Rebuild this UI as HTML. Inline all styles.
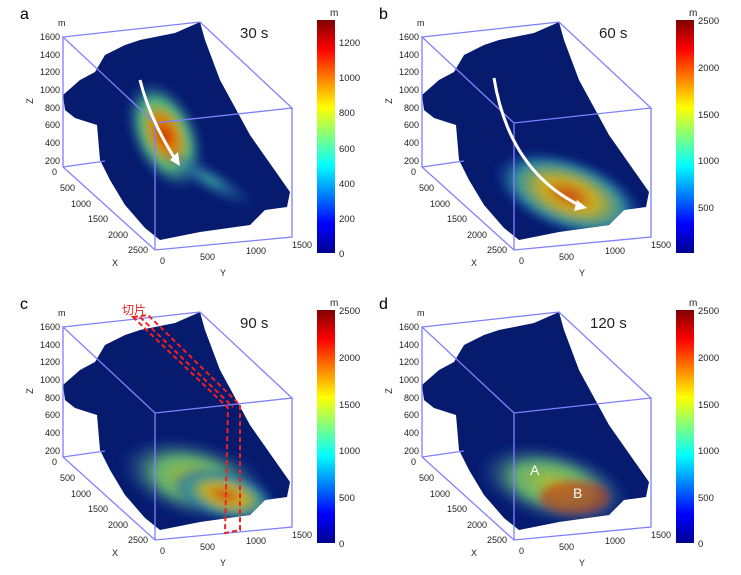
<!DOCTYPE html>
<html><head><meta charset="utf-8"><style>
html,body{margin:0;padding:0;background:#fff;}
svg{display:block;font-family:"Liberation Sans","Noto Sans CJK SC",sans-serif;}
.t{font-size:9px;fill:#222}
.c{font-size:9.5px;fill:#222}
</style></head><body>
<svg width="741" height="575" viewBox="0 0 741 575" xmlns="http://www.w3.org/2000/svg">
<defs>
<linearGradient id="jet" x1="0" y1="1" x2="0" y2="0">
<stop offset="0" stop-color="#00008f"/><stop offset="0.125" stop-color="#0000ff"/>
<stop offset="0.375" stop-color="#00ffff"/><stop offset="0.625" stop-color="#ffff00"/>
<stop offset="0.875" stop-color="#ff0000"/><stop offset="1" stop-color="#800000"/>
</linearGradient>
<radialGradient id="hot"><stop offset="0" stop-color="#c82000"/><stop offset="0.3" stop-color="#e08a00"/><stop offset="0.6" stop-color="#50c080"/><stop offset="1" stop-color="#1030a0" stop-opacity="0"/></radialGradient>
<radialGradient id="warm"><stop offset="0" stop-color="#d04010"/><stop offset="0.35" stop-color="#c8b020"/><stop offset="0.7" stop-color="#3090a0"/><stop offset="1" stop-color="#1030a0" stop-opacity="0"/></radialGradient>
<radialGradient id="green"><stop offset="0" stop-color="#b8c030"/><stop offset="0.5" stop-color="#60b070"/><stop offset="1" stop-color="#1030a0" stop-opacity="0"/></radialGradient>
<radialGradient id="cool"><stop offset="0" stop-color="#40b0a0"/><stop offset="1" stop-color="#1030a0" stop-opacity="0"/></radialGradient>
<clipPath id="terr"><path d="M63,95 L80,80 L95,72 L105,55 L125,45 L140,40 L175,33 L200,22 L205,40 L220,80 L250,135 L290,192 L287,207 L265,210 L250,225 L200,232 L160,240 L145,228 L125,205 L110,180 L100,160 L97,125 L75,118 L65,110 Z"/></clipPath>
<g id="box" fill="none" stroke="#8080ff" stroke-width="1.3">
<path d="M63,37 L200,22 L292,108 L155,123 Z M63,37 L63,167 L155,250 L292,237 L292,108 M155,123 L155,250 M63,167 L105,161"/>
</g>
<path id="ter" d="M63,95 L80,80 L95,72 L105,55 L125,45 L140,40 L175,33 L200,22 L205,40 L220,80 L250,135 L290,192 L287,207 L265,210 L250,225 L200,232 L160,240 L145,228 L125,205 L110,180 L100,160 L97,125 L75,118 L65,110 Z" fill="#061a6e"/>
<filter id="bl"><feGaussianBlur stdDeviation="4"/></filter>
</defs>

<!-- Panel a -->
<g>
<use href="#ter"/>
<g clip-path="url(#terr)" filter="url(#bl)">
<ellipse cx="165" cy="135" rx="35" ry="60" transform="rotate(-25 165 135)" fill="url(#hot)"/>
<ellipse cx="210" cy="180" rx="55" ry="14" transform="rotate(30 210 180)" fill="url(#cool)"/>
</g>
<use href="#box"/>
<path d="M140,80 Q150,120 177,162" stroke="#fff" stroke-width="3" fill="none"/>
<path d="M170,160 L180,166 L178,152 Z" fill="#fff"/>
</g>
<!-- Panel b -->
<g transform="translate(359,0)">
<use href="#ter"/>
<g clip-path="url(#terr)" filter="url(#bl)">
<ellipse cx="210" cy="195" rx="80" ry="38" transform="rotate(20 210 195)" fill="url(#warm)"/>
</g>
<use href="#box"/>
<path d="M135,78 Q150,170 220,205" stroke="#fff" stroke-width="3" fill="none"/>
<path d="M218,200 L228,208 L215,211 Z" fill="#fff"/>
</g>
<!-- Panel c -->
<g transform="translate(0,290)">
<use href="#ter"/>
<g clip-path="url(#terr)" filter="url(#bl)">
<ellipse cx="195" cy="190" rx="80" ry="40" transform="rotate(15 195 190)" fill="url(#green)"/>
<ellipse cx="225" cy="205" rx="55" ry="25" transform="rotate(15 225 205)" fill="url(#warm)"/>
</g>
<use href="#box"/>
<path d="M133,27 L148,25 L240,115 L240,240 L225,243 L228,118 Z M140,27 L233,117" stroke="#ee2020" stroke-width="2" stroke-dasharray="5,3" fill="none"/>
<text x="122" y="24" font-size="12" fill="#ee2020">切片</text>
</g>
<!-- Panel d -->
<g transform="translate(359,290)">
<use href="#ter"/>
<g clip-path="url(#terr)" filter="url(#bl)">
<ellipse cx="195" cy="195" rx="80" ry="38" transform="rotate(15 195 195)" fill="url(#green)"/>
<ellipse cx="215" cy="207" rx="35" ry="17" fill="#c83010" opacity="0.6"/>
</g>
<use href="#box"/>
<text x="171" y="185" font-size="14" fill="#fff">A</text>
<text x="214" y="208" font-size="14" fill="#fff">B</text>
</g>

<!-- colorbars -->
<rect x="317" y="20" width="18" height="233" fill="url(#jet)"/>
<rect x="676" y="20" width="18" height="233" fill="url(#jet)"/>
<rect x="317" y="310" width="18" height="233" fill="url(#jet)"/>
<rect x="676" y="310" width="18" height="233" fill="url(#jet)"/>

<g class="c">
<text x="20" y="19" font-size="16" fill="#000">a</text>
<text x="379" y="19" font-size="16" fill="#000">b</text>
<text x="20" y="309" font-size="16" fill="#000">c</text>
<text x="379" y="309" font-size="16" fill="#000">d</text>
<text x="240" y="38" font-size="15">30 s</text>
<text x="599" y="38" font-size="15">60 s</text>
<text x="240" y="328" font-size="15">90 s</text>
<text x="590" y="328" font-size="15">120 s</text>
<text x="330" y="16" font-size="10">m</text>
<text x="339" y="46">1200</text><text x="339" y="81">1000</text><text x="339" y="116">800</text><text x="339" y="152">600</text><text x="339" y="187">400</text><text x="339" y="222">200</text><text x="339" y="257">0</text>
<text x="689" y="16" font-size="10">m</text>
<text x="698" y="24">2500</text><text x="698" y="71">2000</text><text x="698" y="118">1500</text><text x="698" y="164">1000</text><text x="698" y="211">500</text>
<text x="330" y="306" font-size="10">m</text>
<text x="339" y="314">2500</text><text x="339" y="361">2000</text><text x="339" y="408">1500</text><text x="339" y="454">1000</text><text x="339" y="501">500</text><text x="339" y="547">0</text>
<text x="689" y="306" font-size="10">m</text>
<text x="698" y="314">2500</text><text x="698" y="361">2000</text><text x="698" y="408">1500</text><text x="698" y="454">1000</text><text x="698" y="501">500</text><text x="698" y="547">0</text>
</g>

<g class="t" text-anchor="end">
<text x="58" y="26" text-anchor="start">m</text>
<text x="60" y="40">1600</text><text x="60" y="58">1400</text><text x="60" y="75">1200</text><text x="60" y="93">1000</text><text x="60" y="111">800</text><text x="60" y="128">600</text><text x="60" y="146">400</text><text x="60" y="164">200</text><text x="57" y="175">0</text>
<text x="75" y="191">500</text><text x="91" y="207">1000</text><text x="108" y="222">1500</text><text x="128" y="238">2000</text><text x="148" y="253">2500</text>
<text x="118" y="266">X</text>
<text x="165" y="264">0</text><text x="215" y="260">500</text><text x="266" y="254">1000</text><text x="312" y="248">1500</text>
<text x="226" y="276">Y</text>
<text x="0" y="0" transform="translate(33,101) rotate(-90)" text-anchor="middle">Z</text>
</g>
<g class="t" text-anchor="end" transform="translate(359,0)">
<text x="58" y="26" text-anchor="start">m</text>
<text x="60" y="40">1600</text><text x="60" y="58">1400</text><text x="60" y="75">1200</text><text x="60" y="93">1000</text><text x="60" y="111">800</text><text x="60" y="128">600</text><text x="60" y="146">400</text><text x="60" y="164">200</text><text x="57" y="175">0</text>
<text x="75" y="191">500</text><text x="91" y="207">1000</text><text x="108" y="222">1500</text><text x="128" y="238">2000</text><text x="148" y="253">2500</text>
<text x="118" y="266">X</text>
<text x="165" y="264">0</text><text x="215" y="260">500</text><text x="266" y="254">1000</text><text x="312" y="248">1500</text>
<text x="226" y="276">Y</text>
<text x="0" y="0" transform="translate(33,101) rotate(-90)" text-anchor="middle">Z</text>
</g>
<g class="t" text-anchor="end" transform="translate(0,290)">
<text x="58" y="26" text-anchor="start">m</text>
<text x="60" y="40">1600</text><text x="60" y="58">1400</text><text x="60" y="75">1200</text><text x="60" y="93">1000</text><text x="60" y="111">800</text><text x="60" y="128">600</text><text x="60" y="146">400</text><text x="60" y="164">200</text><text x="57" y="175">0</text>
<text x="75" y="191">500</text><text x="91" y="207">1000</text><text x="108" y="222">1500</text><text x="128" y="238">2000</text><text x="148" y="253">2500</text>
<text x="118" y="266">X</text>
<text x="165" y="264">0</text><text x="215" y="260">500</text><text x="266" y="254">1000</text><text x="312" y="248">1500</text>
<text x="226" y="276">Y</text>
<text x="0" y="0" transform="translate(33,101) rotate(-90)" text-anchor="middle">Z</text>
</g>
<g class="t" text-anchor="end" transform="translate(359,290)">
<text x="58" y="26" text-anchor="start">m</text>
<text x="60" y="40">1600</text><text x="60" y="58">1400</text><text x="60" y="75">1200</text><text x="60" y="93">1000</text><text x="60" y="111">800</text><text x="60" y="128">600</text><text x="60" y="146">400</text><text x="60" y="164">200</text><text x="57" y="175">0</text>
<text x="75" y="191">500</text><text x="91" y="207">1000</text><text x="108" y="222">1500</text><text x="128" y="238">2000</text><text x="148" y="253">2500</text>
<text x="118" y="266">X</text>
<text x="165" y="264">0</text><text x="215" y="260">500</text><text x="266" y="254">1000</text><text x="312" y="248">1500</text>
<text x="226" y="276">Y</text>
<text x="0" y="0" transform="translate(33,101) rotate(-90)" text-anchor="middle">Z</text>
</g>
</svg>
</body></html>
